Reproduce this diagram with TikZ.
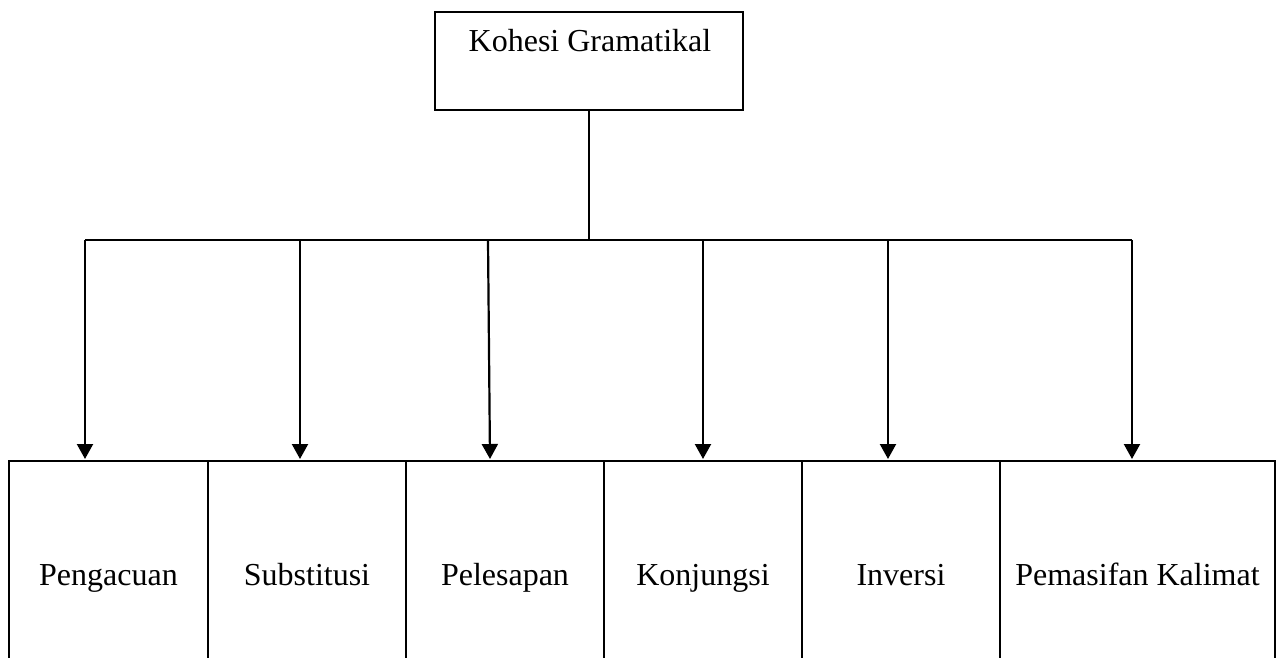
\documentclass[tikz,border=0pt]{standalone}
\usepackage{fontspec}
\setmainfont{Liberation Serif}
\usetikzlibrary{arrows.meta}
\begin{document}
\begin{tikzpicture}[x=0.5pt,y=-0.5pt,
  every node/.style={font=\fontsize{16pt}{19pt}\selectfont},
  boxline/.style={line width=1.2pt},
  topbox/.style={draw,boxline,rectangle,minimum width=154pt,minimum height=49pt,inner sep=0pt},
  leafbox/.style={draw,boxline,rectangle,minimum height=120pt,inner sep=0pt,text height=0.7em,text depth=0.25em},
  conn/.style={line width=1.1pt},
  arrowconn/.style={conn,-{Triangle[length=7.5pt,width=8pt]}}]
\useasboundingbox (0,0) rectangle (1282,658);
\clip (0,0) rectangle (1282,658);
% top box
\node[topbox] (top) at (589,61) {};
\node[anchor=base] (toptext) at (590,52) {Kohesi Gramatikal};
% leaf boxes (open at the bottom, cut by the page edge)
\node[leafbox,minimum width=99.5pt] (b1) at (108.5,581) {Pengacuan};
\node[leafbox,minimum width=99pt] (b2) at (307,581) {Substitusi};
\node[leafbox,minimum width=99pt] (b3) at (505,581) {Pelesapan};
\node[leafbox,minimum width=99pt] (b4) at (703,581) {Konjungsi};
\node[leafbox,minimum width=99pt] (b5) at (901,581) {Inversi};
\node[leafbox,minimum width=137.5pt] (b6) at (1137.5,581) {Pemasifan Kalimat};
% branch points and arrow tips
\coordinate (hub) at (589,240);
\coordinate (h1) at (85,240);
\coordinate (h2) at (300,240);
\coordinate (h3) at (488,240);
\coordinate (h4) at (703,240);
\coordinate (h5) at (888,240);
\coordinate (h6) at (1132,240);
\coordinate (t1) at (85,459);
\coordinate (t2) at (300,459);
\coordinate (t3) at (490,459);
\coordinate (t4) at (703,459);
\coordinate (t5) at (888,459);
\coordinate (t6) at (1132,459);
\draw[conn] (top.south) -- (hub);
\draw[conn] (h1) -- (h6);
\foreach \i in {1,...,6} {\draw[arrowconn] (h\i) -- (t\i);}
\end{tikzpicture}
\end{document}
